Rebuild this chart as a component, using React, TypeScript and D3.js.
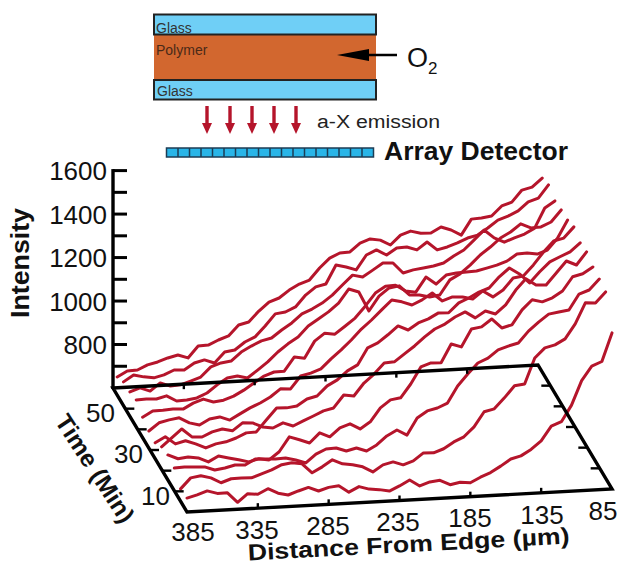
import React from "react";
import * as d3 from "d3";

const times = [0, 5.2, 10.3, 15.5, 20.6, 25.8, 30.9, 36, 41.2, 46.3, 51.5, 56.6];
const distances = d3.range(43).map((j) => 385 - (j * 300) / 42);
const s0 = [664,676,692,678,678,632,669,664,687,664,653,669,683,664,678,683,651,674,660,655,646,667,692,662,678,683,660,669,664,687,706,733,763,775,802,839,904,922,996,1106,1170,1189,1318];
const s1 = [657,705,712,700,675,691,692,690,706,722,743,749,742,698,723,753,732,725,713,687,717,728,712,728,762,760,776,805,826,869,936,947,995,1048,1054,1171,1215,1226,1251,1318,1412,1409,1457];
const s2 = [704,707,704,702,685,692,703,701,726,723,721,723,711,695,733,754,756,740,751,735,760,799,824,798,874,904,915,935,1011,1064,1112,1132,1167,1182,1194,1246,1285,1319,1326,1333,1404,1420,1468];
const s3 = [715,695,701,694,673,698,686,675,663,675,667,702,768,752,735,779,758,797,813,787,817,879,913,920,981,1057,1073,1071,1155,1139,1219,1226,1260,1216,1228,1294,1338,1326,1342,1371,1434,1445,1474];
const s4 = [704,743,781,742,739,760,771,760,794,791,770,763,784,767,788,808,829,840,897,890,947,986,1034,1037,1071,1105,1144,1178,1198,1228,1249,1219,1248,1232,1271,1337,1386,1355,1353,1405,1458,1437,1495];
const s5 = [673,698,663,675,658,637,653,660,675,696,698,751,803,801,807,837,848,892,917,956,981,1057,1077,1112,1150,1129,1159,1175,1200,1198,1241,1261,1286,1302,1351,1389,1359,1315,1364,1407,1428,1448,1487];
const s6 = [679,714,725,732,706,694,719,726,709,735,760,780,805,840,837,894,905,922,965,1004,1047,1095,1134,1178,1221,1210,1193,1214,1243,1204,1220,1217,1205,1240,1210,1239,1292,1299,1347,1404,1452,1463,1512];
const s7 = [694,720,721,724,721,746,762,746,752,768,793,823,853,869,870,933,925,1001,1035,1028,1062,1097,1149,1207,1236,1238,1209,1201,1268,1233,1272,1279,1281,1283,1294,1305,1321,1351,1353,1346,1362,1414,1495];
const s8 = [724,726,723,735,709,711,718,738,773,802,809,797,831,866,909,944,973,1021,1051,1081,1119,1181,1165,1075,1141,1176,1183,1139,1136,1124,1131,1198,1223,1261,1305,1339,1378,1403,1438,1417,1419,1439,1492];
const s9 = [712,728,711,746,729,732,747,763,807,823,829,868,893,914,925,959,989,1028,1048,1073,1107,1151,1194,1183,1212,1242,1240,1191,1203,1209,1216,1227,1257,1282,1325,1369,1330,1308,1325,1340,1365,1455,1485];
const s10 = [709,738,727,720,731,751,749,778,790,773,821,828,862,883,931,984,990,1011,1063,1098,1109,1194,1182,1166,1232,1253,1227,1257,1259,1243,1277,1238,1249,1265,1285,1296,1326,1360,1376,1397,1436,1451,1509];
const s11 = [683,708,710,731,742,758,769,753,805,807,828,844,892,903,951,990,1006,1040,1065,1081,1134,1177,1198,1200,1238,1255,1247,1222,1265,1281,1269,1267,1292,1276,1250,1321,1324,1330,1374,1389,1442,1453,1492];
const series = [s0, s1, s2, s3, s4, s5, s6, s7, s8, s9, s10, s11];

const intensityLabels = [800, 1000, 1200, 1400, 1600];
const intensityTicks = [700, 800, 900, 1000, 1100, 1200, 1300, 1400, 1500, 1600];
const timeLabels = [10, 30, 50];
const timeTicks = [10, 20, 30, 40, 50];
const distLabels = [385, 335, 285, 235, 185, 135, 85];

const distLabelPos: Record<number, [number, number]> = {
  385: [193, 541], 335: [257, 539], 285: [328, 535], 235: [398, 531], 185: [470, 527], 135: [542, 524], 85: [603, 520],
};
const timeLabelPos: Record<number, [number, number]> = { 10: [170, 505], 30: [143, 463], 50: [115, 422] };

const RED = "#B5152B";
const SANS = "'Liberation Sans', Arial, sans-serif";

const dx = d3.scaleLinear().domain([385, 85]).range([0, 425]);
const tx = d3.scaleLinear().domain([60, 0]).range([113, 187]);
const ty = d3.scaleLinear().domain([60, 0]).range([388, 512]);
const rise = d3.scaleLinear().domain([385, 85]).range([0, -23]);
const iy = d3.scaleLinear().domain([600, 1600]).range([0, -217.4]);

const px = (d: number, t: number) => dx(d) + tx(t);
const py = (d: number, t: number, v: number) => ty(t) + rise(d) + iy(v);

export default function App() {
  const gen = d3.line<[number, number]>();
  const corners: [number, number][] = [
    [px(385, 60), py(385, 60, 600)],
    [px(85, 60), py(85, 60, 600)],
    [px(85, 0), py(85, 0, 600)],
    [px(385, 0), py(385, 0, 600)],
  ];
  const arrowXs = [207, 230, 252, 274, 296];
  return (
    <svg width={621} height={565} style={{ position: "absolute", left: 0, top: 0, background: "#fff" }} fontFamily={SANS}>
      {/* schematic */}
      <rect x={154} y={34} width={222} height={46} fill="#D2672F" />
      <rect x={154} y={14.5} width={222} height={20} fill="#6FCFF6" stroke="#222" strokeWidth={2} />
      <rect x={154} y={80} width={222} height={19.5} fill="#6FCFF6" stroke="#222" strokeWidth={2} />
      <text x={156} y={33} fontSize={14} fill="#333">Glass</text>
      <text x={156} y={55} fontSize={14} fill="#4a2a18">Polymer</text>
      <text x={157} y={96} fontSize={14} fill="#333">Glass</text>
      <line x1={360} y1={55} x2={397} y2={55} stroke="#000" strokeWidth={2.5} />
      <path d="M337,55 L369,49 L369,61 Z" fill="#000" />
      <text x={407} y={67} fontSize={27} fill="#111">O</text>
      <text x={428} y={74} fontSize={17} fill="#111">2</text>
      {arrowXs.map((x) => (
        <g key={x}>
          <line x1={x} y1={106} x2={x} y2={126} stroke={RED} strokeWidth={3.4} />
          <path d={`M${x - 5},123 L${x + 5},123 L${x},134 Z`} fill={RED} />
        </g>
      ))}
      <text x={317} y={128} fontSize={18} textLength={123} lengthAdjust="spacingAndGlyphs" fill="#222">a-X emission</text>
      <rect x={166.5} y={148} width={207} height={9} fill="#29B5E8" stroke="#1c3d55" strokeWidth={1.5} />
      {d3.range(1, 18).map((i) => (
        <line key={i} x1={166.5 + (i * 207) / 18} x2={166.5 + (i * 207) / 18} y1={148} y2={157} stroke="#1c3d55" strokeWidth={1.5} />
      ))}
      <text x={384} y={160} fontSize={25} fontWeight={700} textLength={184} lengthAdjust="spacingAndGlyphs" fill="#111">Array Detector</text>

      {/* traces */}
      {series.map((vals, i) => (
        <path
          key={i}
          d={gen(vals.map((v, j) => [px(distances[j], times[i]), py(distances[j], times[i], v)])) ?? ""}
          fill="none"
          stroke={RED}
          strokeWidth={3}
          strokeLinejoin="round"
          strokeLinecap="round"
        />
      ))}

      {/* axes */}
      <path d={(gen(corners) ?? "") + "Z"} fill="none" stroke="#000" strokeWidth={3.4} strokeLinejoin="miter" />
      <line x1={113} y1={py(385, 60, 600) + 1} x2={113} y2={py(385, 60, 1600) - 1.5} stroke="#000" strokeWidth={3.4} />
      {intensityTicks.map((v) => (
        <line key={v} x1={113} x2={127} y1={py(385, 60, v)} y2={py(385, 60, v)} stroke="#000" strokeWidth={3} />
      ))}
      {intensityLabels.map((v) => (
        <text key={v} x={107} y={py(385, 60, v) + 9.5} fontSize={26} textAnchor="end" fill="#111">{v}</text>
      ))}
      {timeTicks.map((t) => (
        <g key={t} stroke="#000" strokeWidth={2.4}>
          <line x1={px(385, t)} x2={px(385, t) + 9} y1={py(385, t, 600)} y2={py(385, t, 600)} />
          <line x1={px(85, t)} x2={px(85, t) - 9} y1={py(85, t, 600)} y2={py(85, t, 600)} />
        </g>
      ))}
      {distLabels.slice(1, 6).map((d) => (
        <g key={d} stroke="#000" strokeWidth={2.4}>
          <line x1={px(d, 0)} x2={px(d, 0)} y1={py(d, 0, 600)} y2={py(d, 0, 600) - 5} />
          <line x1={px(d, 60)} x2={px(d, 60)} y1={py(d, 60, 600)} y2={py(d, 60, 600) + 5} />
        </g>
      ))}
      {distLabels.map((d) => (
        <text key={d} x={distLabelPos[d][0]} y={distLabelPos[d][1]} fontSize={26} textAnchor="middle" fill="#111">{d}</text>
      ))}
      {timeLabels.map((t) => (
        <text key={t} x={timeLabelPos[t][0]} y={timeLabelPos[t][1]} fontSize={26} textAnchor="end" fill="#111">{t}</text>
      ))}

      {/* titles */}
      <text transform="translate(29,263) rotate(-90)" fontSize={25} fontWeight={700} textAnchor="middle" textLength={110} lengthAdjust="spacingAndGlyphs" fill="#111">Intensity</text>
      <text transform="translate(88,473) rotate(57)" fontSize={24} fontWeight={700} textAnchor="middle" textLength={124} lengthAdjust="spacingAndGlyphs" fill="#111">Time (Min)</text>
      <text transform="translate(409,552) rotate(-3)" fontSize={23} fontWeight={700} textAnchor="middle" textLength={322} lengthAdjust="spacingAndGlyphs" fill="#111">Distance From Edge (µm)</text>
    </svg>
  );
}
